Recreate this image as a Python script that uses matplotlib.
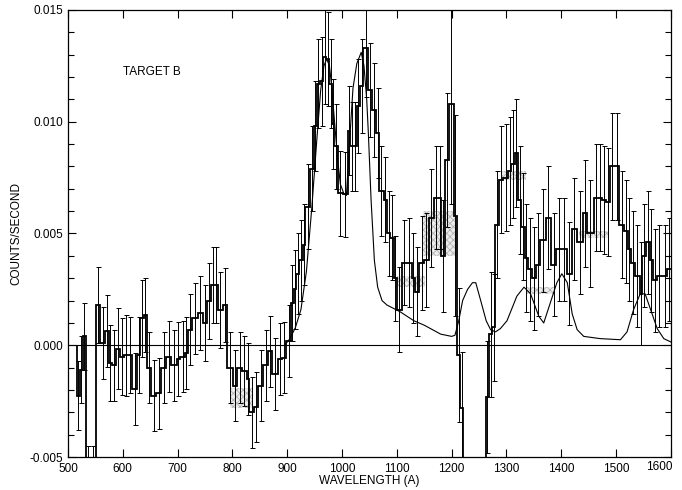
#!/usr/bin/env python
"""
Target B spectrum: binned count rate with error bars and a model curve.
Values read off the reference figure (units of 1e-3 counts/second).
"""

import numpy as np
import matplotlib
matplotlib.use("Agg")
import matplotlib.pyplot as plt
from matplotlib.ticker import MultipleLocator, FormatStrFormatter, FuncFormatter

plt.rcParams['font.family'] = ['Liberation Sans', 'DejaVu Sans']
plt.rcParams['hatch.linewidth'] = 0.6

# Histogram bin edges (Angstrom)
bin_edges = [516, 522, 527, 532, 541, 551, 559, 568, 574, 581, 588, 594, 602, 610,
             617, 626, 632, 638, 644, 652, 661, 670, 679, 688, 698, 705, 713, 719,
             727, 737, 746, 754, 761, 767, 774, 782, 790, 801, 808, 818, 826, 831,
             839, 847, 856, 865, 873, 883, 890, 898, 907, 912, 916, 922, 929, 933,
             941, 948, 954, 960, 966, 971, 977, 981, 986, 992, 1001, 1010, 1015,
             1021, 1027, 1033, 1039, 1048, 1054, 1062, 1068, 1076, 1082, 1088, 1094,
             1100, 1109, 1118, 1127, 1133, 1141, 1150, 1158, 1168, 1175, 1181, 1188,
             1195, 1204, 1210, 1215, 1221, 1231, 1241, 1251, 1262, 1268, 1274, 1280,
             1286, 1294, 1303, 1309, 1315, 1321, 1327, 1333, 1339, 1347, 1353, 1362,
             1372, 1381, 1391, 1400, 1410, 1419, 1429, 1440, 1447, 1459, 1467, 1475,
             1482, 1489, 1497, 1506, 1514, 1521, 1527, 1535, 1543, 1547, 1555, 1561,
             1568, 1574, 1584, 1593, 1600, 1610, 1620]

# Count rate per bin (1e-3 counts/s)
rate = [-2.25, -1.1, 0.4, -6.5, -6.5, 1.8, 0.1, 0.65, -0.8, -0.9,
        -0.15, -0.5, -0.45, -0.45, -1.95, -0.45, 1.2, 1.35, -1.0, -2.25,
        -2.15, -1.0, -0.5, -0.9, -0.6, -0.5, -0.35, 0.7, 1.2, 1.45,
        1.0, 2.0, 2.7, 2.7, 1.6, 1.8, -1.0, -1.8, -1.0, -1.15,
        -1.5, -3.0, -2.75, -1.8, -0.9, -0.27, -1.27, -0.6, -0.55, 0.2,
        1.9, 2.5, 3.2, 3.8, 4.5, 6.2, 7.9, 9.8, 11.7, 11.8,
        12.9, 12.8, 11.7, 9.9, 8.9, 6.8, 6.75, 9.6, 8.9, 8.9,
        10.7, 11.6, 13.3, 11.4, 10.5, 9.5, 6.9, 6.5, 5.0, 4.8,
        3.0, 1.6, 3.7, 3.7, 3.0, 2.4, 3.7, 3.8, 5.7, 6.6,
        6.6, 4.0, 8.3, 10.8, 5.8, -0.45, -2.8, -8.0, -8.0, -8.0,
        -8.0, -2.3, 0.5, 0.8, 5.4, 7.4, 7.5, 7.8, 8.1, 8.6,
        6.5, 5.3, 3.9, 3.4, 3.0, 3.6, 4.7, 5.7, 3.6, 4.3,
        4.3, 3.2, 5.2, 4.6, 5.9, 5.0, 6.6, 6.6, 6.5, 6.4,
        8.0, 8.0, 5.4, 5.1, 4.3, 3.7, 3.1, 2.3, 4.0, 4.6,
        3.8, 2.9, 3.1, 3.1, 3.4, 3.4, 4.0]

# One-sigma errors per bin (1e-3 counts/s)
rate_err = [1.55, 1.5, 1.5, 2.0, 2.0, 1.7, 1.6, 1.6, 1.7, 1.6,
            1.8, 1.7, 1.8, 1.7, 1.6, 1.7, 1.7, 1.65, 1.6, 1.6,
            1.6, 1.6, 1.6, 1.6, 1.65, 1.6, 1.6, 1.6, 1.6, 1.65,
            1.7, 1.7, 1.7, 1.7, 1.7, 1.65, 1.6, 1.6, 1.6, 1.55,
            1.6, 1.6, 1.55, 1.6, 1.6, 1.6, 1.6, 1.6, 1.6, 1.6,
            1.7, 1.75, 1.8, 1.8, 1.8, 1.9, 1.9, 2.0, 2.0, 2.0,
            2.1, 2.1, 2.0, 2.0, 1.9, 1.9, 1.9, 2.0, 2.0, 2.0,
            2.1, 2.1, 2.2, 2.1, 2.1, 2.0, 2.0, 1.9, 1.9, 1.9,
            1.9,
            1.9, 1.9, 2.0, 2.0, 2.0, 2.1, 2.1, 2.2, 2.3, 2.3,
            2.5, 3.0, 4.5, 4.5, 3.0, 2.5, 2.0, 2.0, 2.0, 2.0,
            2.5, 2.8, 2.4, 2.4, 2.4, 2.4, 2.4, 2.4, 2.4, 2.4,
            2.4, 2.4, 2.3, 2.3, 2.3, 2.3, 2.3, 2.3, 2.3, 2.3,
            2.3, 2.3, 2.3, 2.4, 2.4, 2.4, 2.4, 2.4, 2.4, 2.4,
            2.4, 2.4, 2.3, 2.3, 2.3, 2.3, 2.3, 2.3, 2.3, 2.3,
            2.3, 2.3, 2.3, 2.3, 2.3, 2.3]

# Model curve (Angstrom, 1e-3 counts/s)
model_wave = [895, 905, 915, 925, 935, 945, 954, 961, 967, 972, 977, 981, 987,
              992, 997, 1003, 1008, 1014, 1020, 1027, 1035, 1040, 1045, 1048,
              1053, 1059, 1065, 1073, 1082, 1106, 1131, 1150, 1180, 1200, 1206,
              1213, 1220, 1229, 1238, 1244, 1253, 1263, 1271, 1280, 1289, 1301,
              1319, 1332, 1344, 1359, 1368, 1380, 1392, 1401, 1411, 1420, 1429,
              1441, 1471, 1508, 1520, 1532, 1544, 1553, 1563, 1575, 1587, 1600,
              1620]
model_rate = [0.0, 0.3, 0.8, 1.6, 3.3, 6.2, 9.2, 11.4, 12.5, 12.8, 12.5, 11.6, 9.8,
              8.3, 7.2, 6.8, 6.7, 9.2, 11.5, 12.6, 13.1, 12.5, 11.0, 9.5,
              6.5, 3.8, 2.6, 2.0, 1.8, 1.5, 1.1, 0.9, 0.5, 0.4, 0.45,
              1.1, 2.0, 2.5, 2.8, 2.8, 2.0, 1.1, 0.7, 0.6, 0.75, 1.1,
              2.2, 2.6, 2.3, 1.3, 1.0, 1.9, 2.8, 3.2, 2.8, 1.4, 0.7,
              0.4, 0.3, 0.25, 0.6, 1.6, 2.3, 2.3, 1.6, 0.75, 0.3, 0.15,
              0.05]

# Grey stippled patches (Angstrom range, 1e-3 counts/s range)
patch_lo_wave = [795, 1100, 1148, 1292, 1338, 1432]
patch_hi_wave = [835, 1152, 1208, 1335, 1386, 1487]
patch_lo_rate = [-2.8, 2.6, 4.0, 7.4, 2.3, 4.8]
patch_hi_rate = [-1.9, 3.1, 6.0, 7.8, 2.6, 5.1]

X_MIN, X_MAX = 500, 1600


def create_figure():
    edges = np.array(bin_edges, dtype=float)
    vals = np.array(rate) * 1e-3
    errs = np.array(rate_err) * 1e-3
    assert len(edges) == len(vals) + 1 == len(errs) + 1
    centers = 0.5 * (edges[:-1] + edges[1:])

    fig = plt.figure(figsize=(6.82, 4.90), dpi=100)
    ax = fig.add_axes([0.0997, 0.067, 0.884, 0.913])

    for x0, x1, y0, y1 in zip(patch_lo_wave, patch_hi_wave,
                              patch_lo_rate, patch_hi_rate):
        ax.fill_between([x0, x1], y0 * 1e-3, y1 * 1e-3, facecolor='#ececec',
                        edgecolor='#b4b4b4', hatch='xxxxx', linewidth=0, zorder=1)

    ax.axhline(0.0, color='black', linewidth=0.8, zorder=2)
    ax.errorbar(centers, vals, yerr=errs, fmt='none', ecolor='black',
                elinewidth=0.7, capsize=1.8, capthick=0.7, zorder=3)
    ax.stairs(vals, edges, color='black', linewidth=1.3, zorder=4)
    ax.plot(model_wave, np.array(model_rate) * 1e-3, color='black',
            linewidth=0.8, zorder=5)

    ax.text(601, 0.0121, 'TARGET B', fontsize=8.5)

    ax.set_xlim(X_MIN, X_MAX)
    ax.set_ylim(-0.005, 0.015)
    ax.xaxis.set_major_locator(MultipleLocator(100))
    # the label at the right end is drawn separately, nudged inwards
    ax.xaxis.set_major_formatter(
        FuncFormatter(lambda v, pos: '' if v >= X_MAX else '%d' % v))
    ax.annotate('%d' % X_MAX, xy=(X_MAX, 0), xycoords=('data', 'axes fraction'),
                xytext=(-8, -3), textcoords='offset points',
                ha='center', va='top', fontsize=8.5)
    ax.yaxis.set_major_locator(MultipleLocator(0.005))
    ax.yaxis.set_minor_locator(MultipleLocator(0.001))
    ax.yaxis.set_major_formatter(FormatStrFormatter('%.3f'))
    ax.tick_params(axis='both', which='both', direction='in', top=True,
                   right=True, labelsize=8.5, width=0.8)
    ax.tick_params(axis='both', which='major', length=6)
    ax.tick_params(axis='y', which='minor', length=4)
    ax.tick_params(axis='x', pad=4)
    for s in ax.spines.values():
        s.set_linewidth(0.9)

    ax.set_xlabel('WAVELENGTH (A)', fontsize=8.5, labelpad=0)
    ax.set_ylabel('COUNTS/SECOND', fontsize=8.5, labelpad=5)

    fig.savefig('out.png', dpi=100, facecolor='white')
    plt.close(fig)


if __name__ == "__main__":
    create_figure()
